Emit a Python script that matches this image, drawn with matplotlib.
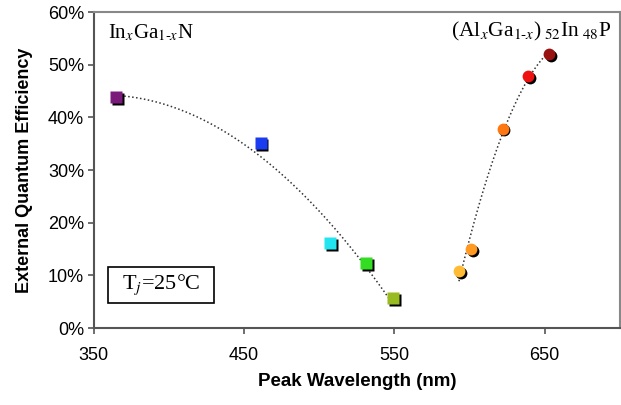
import numpy as np
import matplotlib
matplotlib.use("Agg")
import matplotlib.pyplot as plt
import matplotlib.transforms as mtransforms
from matplotlib.patches import Rectangle
from matplotlib.ticker import FuncFormatter

# ---- data
ingan_wl = [365, 461, 507, 531, 549]
ingan_eqe = [43.8, 35.1, 16.1, 12.3, 5.7]
ingan_colors = ["#7a1a7a", "#1a3cf0", "#22e5f0", "#33dd22", "#99bb22"]

algainp_wl = [593, 601, 622, 639, 653]
algainp_eqe = [10.8, 15.0, 37.9, 47.8, 52.0]
algainp_colors = ["#ffbb33", "#ff9922", "#ff7711", "#ee1111", "#991111"]

xticks = [350, 450, 550, 650]
yticks = [0, 10, 20, 30, 40, 50, 60]

plt.rcParams["mathtext.fontset"] = "stix"

fig = plt.figure(figsize=(6.21, 4.05), dpi=100)
ax = fig.add_axes([0.151, 0.19, 0.847, 0.78])

# trend lines (polynomial fits like the spreadsheet ones)
for wl, eqe, deg in [(ingan_wl, ingan_eqe, 2), (algainp_wl, algainp_eqe, 2)]:
    p = np.polyfit(wl, eqe, deg)
    xs = np.linspace(min(wl), max(wl), 200)
    ax.plot(xs, np.polyval(p, xs), color="#333333", lw=1.1, ls=(0, (1, 1.6)), zorder=2)

shadow = mtransforms.offset_copy(ax.transData, fig=fig, x=1.3, y=-1.3, units="points")
for x, y, c in zip(ingan_wl, ingan_eqe, ingan_colors):
    ax.plot(x, y, "s", ms=8.5, color="black", mec="none", transform=shadow, zorder=3)
    ax.plot(x, y, "s", ms=8.5, color=c, mec="none", zorder=4)
for x, y, c in zip(algainp_wl, algainp_eqe, algainp_colors):
    ax.plot(x, y, "o", ms=8.5, color="black", mec="none", transform=shadow, zorder=3)
    ax.plot(x, y, "o", ms=8.5, color=c, mec="none", zorder=4)

ax.set_xlim(350, 700)
ax.set_ylim(0, 60)
ax.set_xticks(xticks)
ax.set_yticks(yticks)
ax.yaxis.set_major_formatter(FuncFormatter(lambda v, pos: "%d%%" % v))
for lab in ax.get_xticklabels() + ax.get_yticklabels():
    lab.set_fontfamily("Liberation Sans")
    lab.set_fontsize(13)
ax.tick_params(axis="both", direction="out", length=4, width=1.2, color="#555555")
ax.tick_params(axis="x", pad=10)
ax.tick_params(axis="y", pad=3)

for s in ax.spines.values():
    s.set_color("#888888")
    s.set_linewidth(1.5)
ax.spines["left"].set_color("#555555")
ax.spines["bottom"].set_color("#555555")

ax.set_xlabel("Peak Wavelength (nm)", fontfamily="Liberation Sans", fontweight="bold", fontsize=13.5, labelpad=6)
ax.set_ylabel("External Quantum Efficiency", fontfamily="Liberation Sans", fontweight="bold", fontsize=13, labelpad=11)

serif = "Liberation Serif"
ax.text(0.027, 0.935, r"In$_x$Ga$_{1\mathrm{‐}x}$N", transform=ax.transAxes,
        fontfamily=serif, fontsize=15, va="center", ha="left")
ax.text(0.985, 0.94, r"(Al$_x$Ga$_{1\mathrm{‐}x}$)$_{\ 52}$In$_{\ 48}$P", transform=ax.transAxes,
        fontfamily=serif, fontsize=15.5, va="center", ha="right")

# temperature box
ax.add_patch(Rectangle((0.027, 0.079), 0.201, 0.114, transform=ax.transAxes,
                       fc="white", ec="black", lw=1.2, zorder=5))
ax.text(0.1275, 0.136, r"T$_j$=25°C", transform=ax.transAxes,
        fontfamily=serif, fontsize=16, va="center", ha="center", zorder=6)

fig.savefig("out.png", dpi=100)
